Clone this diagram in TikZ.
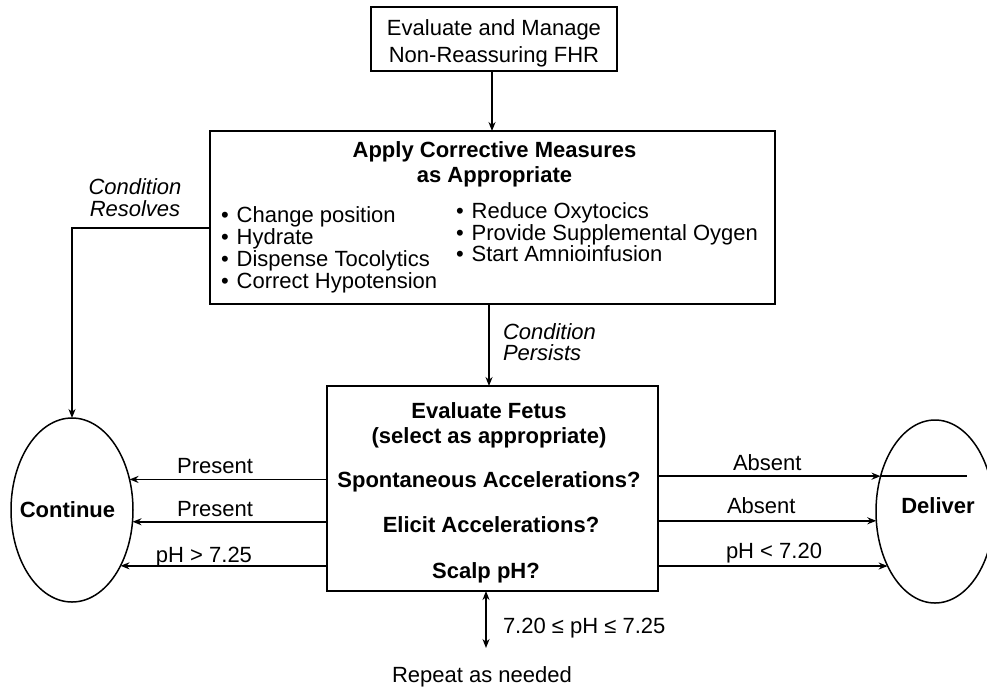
\documentclass[tikz,border=0pt]{standalone}
\usepackage{fontspec}
\setmainfont{Liberation Sans}
\usetikzlibrary{arrows.meta,shapes.geometric}
\begin{document}
\begin{tikzpicture}[x=1pt,y=-1pt,
  box/.style={draw, line width=1.5pt, rectangle, inner sep=0pt, outer sep=0pt},
  oval/.style={draw, line width=1.5pt, ellipse, inner sep=0pt, outer sep=0pt},
  txt/.style={inner sep=0pt, outer sep=0pt, font=\fontsize{22}{26}\selectfont},
  btxt/.style={inner sep=0pt, outer sep=0pt, font=\fontsize{22}{26}\selectfont\bfseries},
  conn/.style={line width=1.5pt},
  arr/.style={conn, -{Stealth[length=9pt,width=7pt]}},
  dbl/.style={conn, {Stealth[length=9pt,width=7pt]}-{Stealth[length=9pt,width=7pt]}},
]
\useasboundingbox (0,0) rectangle (987,691);
\fill[white] (0,0) rectangle (987,691);

% top box
\node[box, minimum width=246pt, minimum height=64pt] (top) at (494,39) {};
\node[txt, align=center, font=\fontsize{22}{27}\selectfont] (toptxt) at (494,43.8) {Evaluate and Manage\\Non-Reassuring FHR};

% corrective measures box
\node[box, minimum width=565pt, minimum height=173pt] (corr) at (492.5,217.5) {};
\node[btxt, align=center, font=\fontsize{22}{25}\selectfont\bfseries] (corrtitle) at (494.5,164.8) {Apply Corrective Measures\\as Appropriate};
\node[txt, align=left, anchor=west, font=\fontsize{22}{22.3}\selectfont] (leftlist) at (221,249.8)
  {•\hspace{8pt}Change position\\•\hspace{8pt}Hydrate\\•\hspace{8pt}Dispense Tocolytics\\•\hspace{8pt}Correct Hypotension};
\node[txt, align=left, anchor=west, font=\fontsize{22}{21.5}\selectfont] (rightlist) at (456,232.5)
  {•\hspace{8pt}Reduce Oxytocics\\•\hspace{8pt}Provide Supplemental Oygen\\•\hspace{8pt}Start Amnioinfusion};

% condition labels
\node[txt, align=center, font=\fontsize{22}{22}\selectfont\itshape] (resolves) at (135,198) {Condition\\Resolves};
\node[txt, align=left, anchor=west, font=\fontsize{22}{21}\selectfont\itshape] (persists) at (503,342.5) {Condition\\Persists};

% evaluate fetus box
\node[box, minimum width=331pt, minimum height=205pt] (fetus) at (492.5,488.5) {};
\node[btxt, anchor=base] (ef1) at (489,418) {Evaluate Fetus};
\node[btxt, anchor=base] (ef2) at (489,443) {(select as appropriate)};
\node[btxt, anchor=base] (q1) at (489,487.5) {Spontaneous Accelerations?};
\node[btxt, anchor=base] (q2) at (491,532) {Elicit Accelerations?};
\node[btxt, anchor=base] (q3) at (486,578) {Scalp pH?};

% ellipses
\node[oval, minimum width=122pt, minimum height=184pt] (cont) at (72,510) {};
\node[btxt, anchor=base] (conttxt) at (67.5,517) {Continue};
\node[oval, minimum width=118pt, minimum height=183pt] (deliv) at (935,511.5) {};
\node[btxt, anchor=base] (delivtxt) at (938,513) {Deliver};

% connectors
\draw[arr] ([xshift=-2pt]top.south) -- ([xshift=-2pt]top.south |- corr.north);
\draw[arr] ([xshift=-3.5pt]corr.south) -- ([xshift=-3.5pt]fetus.north);
\draw[arr] ([yshift=-10.5pt]corr.west) -| (cont.north);

\draw[arr] (fetus.west |- cont.28.37) -- (cont.28.37);
\draw[arr] (fetus.west |- cont.-11.22) -- (cont.-11.22);
\draw[arr] (fetus.west |- cont.-49.97) -- (cont.-49.97);

\draw[arr] (fetus.east |- deliv.147.73) -- (deliv.147.73);
\coordinate (dl1) at (967,477);
\draw[conn] (deliv.147.73) -- (dl1 |- deliv.147.73);
\draw[arr] (fetus.east |- deliv.-171.78) -- (deliv.-171.78);
\draw[arr] (fetus.east |- deliv.-131.82) -- (deliv.-131.82);

\coordinate (rep) at (486,648);
\draw[dbl] (fetus.south -| rep) -- (rep);

% arrow labels
\node[txt, anchor=base east] (lp1) at (253,473) {Present};
\node[txt, anchor=base east] (lp2) at (253,516) {Present};
\node[txt, anchor=base east] (lp3) at (252,562) {pH > 7.25};
\node[txt, anchor=base west] (ra1) at (733,470) {Absent};
\node[txt, anchor=base west] (ra2) at (727,513) {Absent};
\node[txt, anchor=base west] (ra3) at (726,558) {pH < 7.20};
\node[txt, anchor=base west] (mid) at (503,633) {7.20 ≤ pH ≤ 7.25};
\node[txt, anchor=base] (repeat) at (482,682) {Repeat as needed};
\end{tikzpicture}
\end{document}
